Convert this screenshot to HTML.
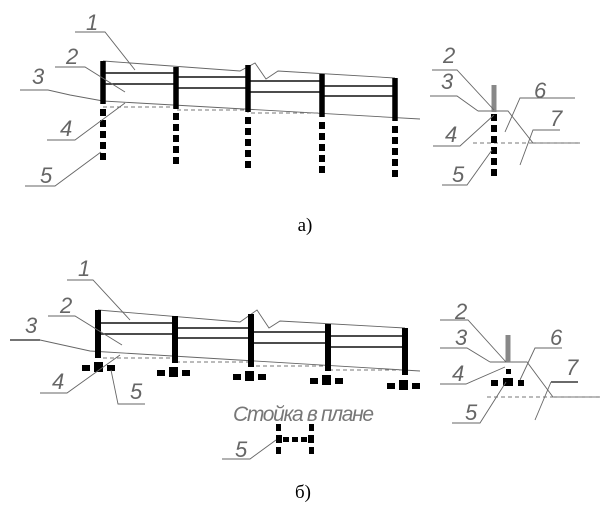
<!DOCTYPE html>
<html><head><meta charset="utf-8"><style>
html,body{margin:0;padding:0;background:#fff;}
svg{display:block;}
.l{font-family:"Liberation Sans",sans-serif;font-style:italic;font-size:22px;fill:#666;}
.t{stroke:#666;stroke-width:0.9;fill:none;}
.k{stroke:#111;stroke-width:1.6;fill:none;}
.p{stroke:#000;stroke-width:5.5;}
.d{stroke:#000;stroke-width:6;stroke-dasharray:7,4;}
.g{stroke:#777;stroke-width:0.9;stroke-dasharray:4,3;fill:none;}
</style></head><body>
<svg width="613" height="514" viewBox="0 0 613 514" xmlns="http://www.w3.org/2000/svg">
<!-- ===== a) main ===== -->
<polyline class="t" points="103,61 240,71 255,63 266,79 278,71 395,78"/>
<line class="k" x1="103" y1="73" x2="176" y2="73"/><line class="k" x1="103" y1="84" x2="176" y2="84"/>
<line class="k" x1="176" y1="77" x2="248" y2="77"/><line class="k" x1="176" y1="88" x2="248" y2="88"/>
<line class="k" x1="248" y1="81" x2="322" y2="81"/><line class="k" x1="248" y1="92" x2="322" y2="92"/>
<line class="k" x1="322" y1="86" x2="395" y2="86"/><line class="k" x1="322" y1="96" x2="395" y2="96"/>
<polyline class="t" points="20,90 48,90 70,95 103,101 420,119"/>
<polyline class="g" points="103,107 176,107 176,110 248,110 248,113 320,113"/>
<line class="p" x1="103" y1="61" x2="103" y2="104"/><line class="d" x1="103" y1="109" x2="103" y2="162"/>
<line class="p" x1="176" y1="67" x2="176" y2="109"/><line class="d" x1="176" y1="113" x2="176" y2="166"/>
<line class="p" x1="248" y1="65" x2="248" y2="112"/><line class="d" x1="248" y1="117" x2="248" y2="170"/>
<line class="p" x1="322" y1="74" x2="322" y2="117"/><line class="d" x1="322" y1="122" x2="322" y2="175"/>
<line class="p" x1="395" y1="78" x2="395" y2="121"/><line class="d" x1="395" y1="126" x2="395" y2="179"/>
<text class="l" x="86" y="30">1</text><polyline class="t" points="75,32 105,32 135,70"/>
<text class="l" x="66" y="64">2</text><polyline class="t" points="55,67 85,67 125,92"/>
<text class="l" x="32" y="84">3</text>
<text class="l" x="60" y="136">4</text><polyline class="t" points="47,140 75,140 125,103"/>
<text class="l" x="40" y="183">5</text><polyline class="t" points="25,186 55,186 101,152"/>
<!-- a) right -->
<polyline class="t" points="478,111 508,111 533,143 580,143"/>
<line class="g" x1="473" y1="143" x2="580" y2="143"/>
<line x1="494" y1="85" x2="494" y2="112" stroke="#888" stroke-width="5"/>
<line class="d" x1="494" y1="114" x2="494" y2="180"/>
<text class="l" x="443" y="63">2</text><polyline class="t" points="432,70 457,70 494,110"/>
<text class="l" x="441" y="89">3</text><polyline class="t" points="430,96 457,96 478,111"/>
<text class="l" x="445" y="142">4</text><polyline class="t" points="433,146 460,146 494,115"/>
<text class="l" x="452" y="182">5</text><polyline class="t" points="442,185 467,185 492,150"/>
<text class="l" x="534" y="98">6</text><polyline class="t" points="575,98 520,98 505,132"/>
<text class="l" x="550" y="126">7</text><polyline class="t" points="560,130 533,130 520,165"/>
<text x="305" y="231" font-family="Liberation Serif,serif" font-size="19" text-anchor="middle">а)</text>
<!-- ===== б) main ===== -->
<polyline class="t" points="98,310 240,322 257,310 269,328 280,321 405,328"/>
<line class="k" x1="98" y1="323" x2="175" y2="323"/><line class="k" x1="98" y1="334" x2="175" y2="334"/>
<line class="k" x1="175" y1="328" x2="251" y2="328"/><line class="k" x1="175" y1="338" x2="251" y2="338"/>
<line class="k" x1="251" y1="332" x2="328" y2="332"/><line class="k" x1="251" y1="343" x2="328" y2="343"/>
<line class="k" x1="328" y1="336" x2="405" y2="336"/><line class="k" x1="328" y1="347" x2="405" y2="347"/>
<line x1="10" y1="340" x2="40" y2="340" stroke="#222" stroke-width="1.2"/>
<polyline class="t" points="40,340 90,351 420,371"/>
<polyline class="g" points="103,358 175,358 175,362 250,362 250,366 330,366 330,370 405,370"/>
<g fill="#000">
<rect x="95" y="310" width="6" height="48"/><rect x="82" y="365" width="8" height="6"/><rect x="94" y="362" width="9" height="10"/><rect x="107" y="365" width="8" height="6"/>
<rect x="172" y="316" width="6" height="47"/><rect x="157" y="370" width="8" height="6"/><rect x="169" y="367" width="9" height="10"/><rect x="182" y="370" width="8" height="6"/>
<rect x="248" y="314" width="6" height="53"/><rect x="233" y="374" width="8" height="6"/><rect x="245" y="371" width="9" height="10"/><rect x="258" y="374" width="8" height="6"/>
<rect x="325" y="324" width="6" height="47"/><rect x="310" y="378" width="8" height="6"/><rect x="322" y="375" width="9" height="10"/><rect x="335" y="378" width="8" height="6"/>
<rect x="402" y="328" width="6" height="47"/><rect x="387" y="383" width="8" height="6"/><rect x="399" y="380" width="9" height="10"/><rect x="412" y="383" width="8" height="6"/>
</g>
<text class="l" x="78" y="276">1</text><polyline class="t" points="67,280 93,280 130,320"/>
<text class="l" x="60" y="313">2</text><polyline class="t" points="48,316 75,316 122,345"/>
<text class="l" x="25" y="333">3</text>
<text class="l" x="52" y="389">4</text><polyline class="t" points="40,393 67,393 120,355"/>
<text class="l" x="130" y="399">5</text><polyline class="t" points="145,404 118,404 111,370"/>
<text x="233" y="421" font-family="Liberation Sans,sans-serif" font-style="italic" font-size="21" fill="#777" textLength="141">Стойка в плане</text>
<g fill="#000">
<rect x="276" y="424" width="5" height="7"/><rect x="276" y="435" width="6" height="8"/><rect x="276" y="447" width="5" height="7"/>
<rect x="309" y="424" width="5" height="7"/><rect x="308" y="435" width="6" height="8"/><rect x="309" y="447" width="5" height="7"/>
<rect x="283" y="437" width="6" height="5"/><rect x="292" y="437" width="6" height="5"/><rect x="301" y="437" width="6" height="5"/>
</g>
<text class="l" x="235" y="457">5</text><polyline class="t" points="222,459 250,459 276,440"/>
<text x="303" y="498" font-family="Liberation Serif,serif" font-size="19" text-anchor="middle">б)</text>
<!-- б) right -->
<polyline class="t" points="490,362 527,362 553,397 600,397"/>
<line class="g" x1="487" y1="397" x2="600" y2="397"/>
<line x1="551" y1="382" x2="578" y2="382" stroke="#111" stroke-width="1.2"/>
<line x1="508" y1="335" x2="508" y2="362" stroke="#888" stroke-width="5"/>
<g fill="#000"><rect x="506" y="369" width="5" height="5"/><rect x="491" y="380" width="7" height="6"/><rect x="503" y="378" width="10" height="8"/><rect x="518" y="380" width="6" height="6"/></g>
<text class="l" x="455" y="319">2</text><polyline class="t" points="440,320 468,320 506,362"/>
<text class="l" x="455" y="345">3</text><polyline class="t" points="440,348 467,348 490,362"/>
<text class="l" x="452" y="381">4</text><polyline class="t" points="440,384 466,384 505,367"/>
<text class="l" x="465" y="420">5</text><polyline class="t" points="452,423 480,423 506,382"/>
<text class="l" x="550" y="345">6</text><polyline class="t" points="562,348 535,348 520,380"/>
<text class="l" x="566" y="375">7</text><line class="t" x1="551" y1="382" x2="535" y2="420"/>
</svg>
</body></html>
